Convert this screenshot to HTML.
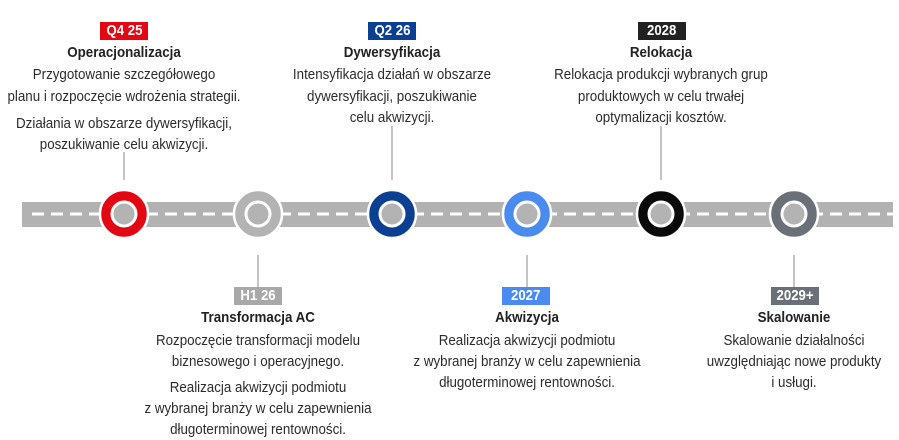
<!DOCTYPE html>
<html><head><meta charset="utf-8"><style>
body{margin:0;width:899px;height:440px;background:#fff;position:relative;overflow:hidden;font-family:"Liberation Sans",sans-serif;color:#2b2b2b}
.t{position:absolute;height:20px;line-height:20px;font-size:15px;white-space:nowrap;transform:translateX(-50%) scaleX(.89)}
.b{font-weight:bold;color:#222;font-size:15px}
.g{position:absolute;height:18px;line-height:18px;color:#fff;font-weight:bold;font-size:15px;text-align:center}
.g span{display:inline-block;transform:scaleX(.88)}
</style></head><body>
<svg width="899" height="440" style="position:absolute;left:0;top:0">
<rect x="22" y="202" width="871" height="25" fill="#b2b2b2"/>
<line x1="32" y1="214" x2="893" y2="214" stroke="#fff" stroke-width="3" stroke-dasharray="12 7"/>
<g stroke="#c4c4c4" stroke-width="2">
<line x1="124" y1="152" x2="124" y2="180"/>
<line x1="392" y1="126" x2="392" y2="180"/>
<line x1="661" y1="126" x2="661" y2="180"/>
<line x1="258" y1="255" x2="258" y2="287"/>
<line x1="527" y1="255" x2="527" y2="287"/>
<line x1="794" y1="255" x2="794" y2="287"/>
</g>
<g stroke="#fff" stroke-width="2.5">
<circle cx="124" cy="214" r="24" fill="#e30613"/>
<circle cx="258" cy="214" r="24" fill="#b3b3b3"/>
<circle cx="392" cy="214" r="24" fill="#0b3f91"/>
<circle cx="527" cy="214" r="24" fill="#4a8bef"/>
<circle cx="661" cy="214" r="24" fill="#0a0a0a"/>
<circle cx="794" cy="214" r="24" fill="#6b6f78"/>
</g>
<g fill="#b3b3b3" stroke="#fff" stroke-width="3">
<circle cx="124" cy="214" r="12"/><circle cx="258" cy="214" r="12"/><circle cx="392" cy="214" r="12"/>
<circle cx="527" cy="214" r="12"/><circle cx="661" cy="214" r="12"/><circle cx="794" cy="214" r="12"/>
</g>
</svg>

<div class="g" style="left:100px;top:22px;width:48px;background:#e30613"><span>Q4 25</span></div>
<div class="t b" style="left:124px;top:43px">Operacjonalizacja</div>
<div class="t" style="left:124px;top:65px">Przygotowanie szczegółowego</div>
<div class="t" style="left:124px;top:87px">planu i rozpoczęcie wdrożenia strategii.</div>
<div class="t" style="left:124px;top:114px">Działania w obszarze dywersyfikacji,</div>
<div class="t" style="left:124px;top:135px">poszukiwanie celu akwizycji.</div>

<div class="g" style="left:368px;top:22px;width:48px;background:#0b3f91"><span>Q2 26</span></div>
<div class="t b" style="left:392px;top:43px">Dywersyfikacja</div>
<div class="t" style="left:392px;top:65px">Intensyfikacja działań w obszarze</div>
<div class="t" style="left:392px;top:87px">dywersyfikacji, poszukiwanie</div>
<div class="t" style="left:392px;top:108px">celu akwizycji.</div>

<div class="g" style="left:638px;top:22px;width:48px;background:#222"><span>2028</span></div>
<div class="t b" style="left:661px;top:43px">Relokacja</div>
<div class="t" style="left:661px;top:65px">Relokacja produkcji wybranych grup</div>
<div class="t" style="left:661px;top:87px">produktowych w celu trwałej</div>
<div class="t" style="left:661px;top:108px">optymalizacji kosztów.</div>

<div class="g" style="left:234px;top:287px;width:48px;background:#a8a8a8"><span>H1 26</span></div>
<div class="t b" style="left:258px;top:308px">Transformacja AC</div>
<div class="t" style="left:258px;top:331px">Rozpoczęcie transformacji modelu</div>
<div class="t" style="left:258px;top:352px">biznesowego i operacyjnego.</div>
<div class="t" style="left:258px;top:378px">Realizacja akwizycji podmiotu</div>
<div class="t" style="left:258px;top:399px">z wybranej branży w celu zapewnienia</div>
<div class="t" style="left:258px;top:420px">długoterminowej rentowności.</div>

<div class="g" style="left:502px;top:287px;width:48px;background:#4a8bef"><span>2027</span></div>
<div class="t b" style="left:527px;top:308px">Akwizycja</div>
<div class="t" style="left:527px;top:331px">Realizacja akwizycji podmiotu</div>
<div class="t" style="left:527px;top:352px">z wybranej branży w celu zapewnienia</div>
<div class="t" style="left:527px;top:373px">długoterminowej rentowności.</div>

<div class="g" style="left:771px;top:287px;width:48px;background:#6b6f78"><span>2029+</span></div>
<div class="t b" style="left:794px;top:308px">Skalowanie</div>
<div class="t" style="left:794px;top:331px">Skalowanie działalności</div>
<div class="t" style="left:794px;top:352px">uwzględniając nowe produkty</div>
<div class="t" style="left:794px;top:373px">i usługi.</div>
</body></html>
